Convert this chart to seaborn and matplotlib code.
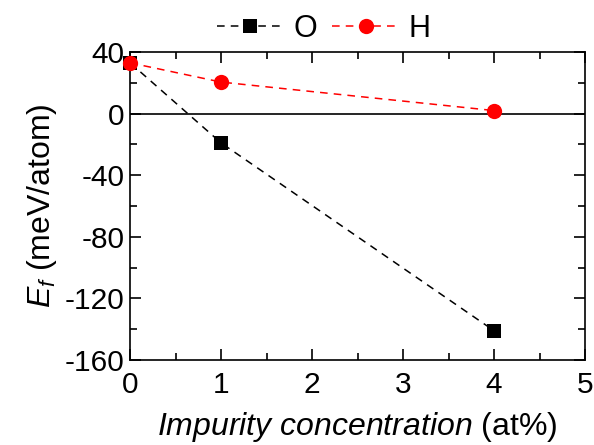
import matplotlib
matplotlib.use("Agg")
import matplotlib.pyplot as plt
import seaborn as sns
import pandas as pd
from matplotlib.ticker import MultipleLocator

# data
conc = [0, 1, 4]
ef_O = [33, -19, -141]
ef_H = [33, 20.5, 2]

sns.set_style("ticks", {'text.color': 'black', 'axes.labelcolor': 'black',
                        'xtick.color': 'black', 'ytick.color': 'black',
                        'axes.edgecolor': 'black'})
plt.rcParams['font.family'] = ['Liberation Sans', 'DejaVu Sans']
plt.rcParams['mathtext.fontset'] = 'custom'
plt.rcParams['mathtext.rm'] = 'Liberation Sans'
plt.rcParams['mathtext.it'] = 'Liberation Sans:italic'
plt.rcParams['axes.unicode_minus'] = False

df = pd.DataFrame({'x': conc * 2, 'y': ef_O + ef_H, 'imp': ['O'] * 3 + ['H'] * 3})

fig = plt.figure(figsize=(5.94, 4.45), dpi=100)
ax = fig.add_axes([0.219, 0.191, 0.766, 0.692])

ax.axhline(0, color='black', lw=1.2, zorder=1)

styles = {'O': dict(color='black', marker='s', ms=9.5), 'H': dict(color='red', marker='o', ms=11)}
for name in ['O', 'H']:
    sub = df[df['imp'] == name]
    sns.lineplot(data=sub, x='x', y='y', ax=ax, lw=1.1, label=name, dashes=False,
                 markeredgewidth=0, clip_on=False, zorder=3, **styles[name])
for line in ax.get_lines()[1:]:
    line.set_dashes((5, 4))

ax.set_xlim(0, 5)
ax.set_ylim(-160, 40)
ax.xaxis.set_major_locator(MultipleLocator(1))
ax.xaxis.set_minor_locator(MultipleLocator(0.5))
ax.yaxis.set_major_locator(MultipleLocator(40))
ax.yaxis.set_minor_locator(MultipleLocator(20))
ax.tick_params(which='both', direction='in', top=True, right=True, labelsize=21.5, width=1.2)
ax.tick_params(which='major', length=8)
ax.tick_params(which='minor', length=5)
ax.tick_params(axis='x', pad=8)
ax.tick_params(axis='y', pad=4)
for s in ax.spines.values():
    s.set_linewidth(1.2)

ax.set_xlabel(r"$\mathit{Impurity\ concentration}$ (at%)", fontsize=23, labelpad=8)
ax.set_ylabel(r"$E_f$ (meV/atom)", fontsize=23, labelpad=4)

ax.get_legend().remove()
h, l = ax.get_legend_handles_labels()
fig.legend(h, l, loc='upper center', bbox_to_anchor=(0.545, 1.03), ncol=2, frameon=False,
           fontsize=22, handlelength=2.2, columnspacing=0.5, handletextpad=0.3)

fig.savefig("out.png", dpi=100)
